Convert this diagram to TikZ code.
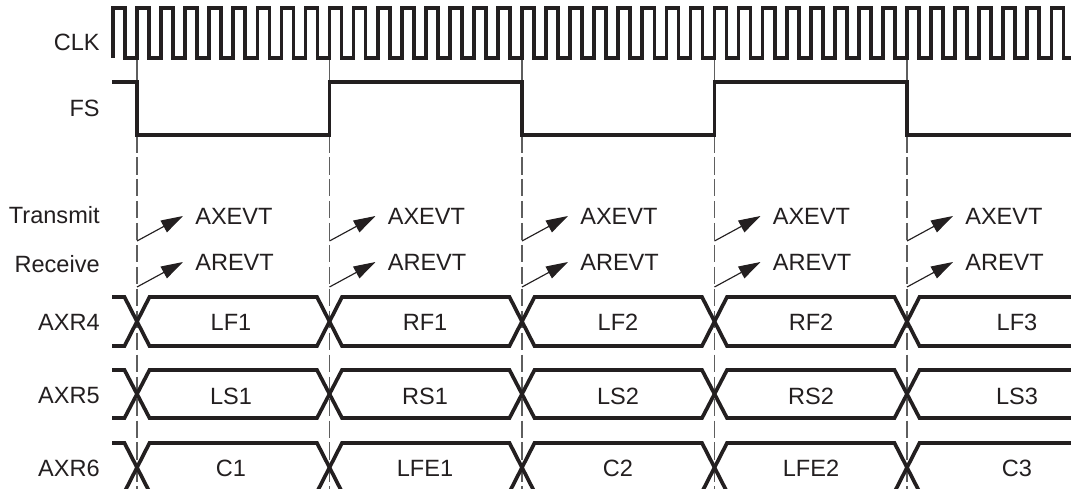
\documentclass[tikz,border=0pt]{standalone}
\usepackage{fontspec}
\setmainfont{Liberation Sans}
\usepackage{tikz}
\usepackage{xcolor}
\usetikzlibrary{arrows.meta,positioning,calc}
\definecolor{ink}{HTML}{231F20}
\definecolor{markgray}{HTML}{5E5E5E}
\tikzset{
  wave/.style={draw=ink,line width=2.1pt,line join=miter},
  markline/.style={draw=markgray,line width=0.65pt},
  markdash/.style={markline,dash pattern=on 10pt off 2.5pt},
  siglabel/.style={anchor=east,inner sep=0pt,text=ink,
                   font=\fontsize{13.4}{15}\selectfont},
  slotlabel/.style={inner sep=0pt,text=ink,
                    font=\fontsize{13.4}{15}\selectfont},
  evtlabel/.style={anchor=west,inner xsep=6.8pt,inner ysep=0pt,text=ink,
                   font=\fontsize{13.4}{15}\selectfont},
  evtarr/.style={-{Triangle[length=12.5pt,width=7.5pt]},line width=0.65pt,draw=ink}
}

\begin{document}
\begin{tikzpicture}[x=0.02cm,y=-0.02cm]
  \useasboundingbox[fill=white] (0,0) rectangle (1071,489);

  % Signal names
  \node[siglabel] (lclk) at (100,42) {CLK};
  \node[siglabel] (lfs) at (100,108) {FS};
  \node[siglabel] (ltx) at (100,215) {Transmit};
  \node[siglabel] (lrx) at (100,264) {Receive};
  \node[siglabel] (laxr4) at (100,322) {AXR4};
  \node[siglabel] (laxr5) at (100,396) {AXR5};
  \node[siglabel] (laxr6) at (100,468) {AXR6};

  % Frame boundary markers
  \foreach \b in {137,329.5,522,714.5,907} {
    \draw[markline] (\b,58) -- (\b,135);
    \draw[markdash] (\b,135) -- (\b,489);
  }

  % Bit clock
  \draw[wave] (113,58) \foreach \k in {1,...,39} {
      -- ++(0,-50) -- ++(12.03,0) -- ++(0,50) -- ++(12.03,0) }
    -- ++(0,-50) -- ++(12.03,0) -- ++(0,50) -- (1071,58);

  % Frame sync
  \draw[wave] (112,82) -- (137,82) -- (137,135) -- (329.5,135) -- (329.5,82)
    -- (522,82) -- (522,135) -- (714.5,135) -- (714.5,82) -- (907,82)
    -- (907,135) -- (1071,135);

  % DMA events at each frame start
  \foreach \b [count=\n] in {137,329.5,522,714.5,907} {
    \coordinate (xs\n) at (\b,241);
    \coordinate (rs\n) at (\b,287);
    \node[evtlabel] (ax\n) at (\b+46,216) {AXEVT};
    \node[evtlabel] (ar\n) at (\b+46,262) {AREVT};
    \draw[evtarr] (xs\n) -- (ax\n.west);
    \draw[evtarr] (rs\n) -- (ar\n.west);
  }

  % Serializer data buses
  \foreach \yt/\yb in {297/346,370/418,443/492} {
    \foreach \ya/\yc in {\yt/\yb,\yb/\yt} {
      \draw[wave] (112,\ya) \foreach \b [count=\n] in {137,329.5,522,714.5,907} {
          -- (\b-12.5,{isodd(\n)?\ya:\yc}) -- (\b+12.5,{isodd(\n)?\yc:\ya}) }
        -- (1071,\yc);
    }
  }

  % Slot contents
  \foreach \x/\ta/\tb/\tc [count=\n] in {231/LF1/LS1/C1,425/RF1/RS1/LFE1,
      618/LF2/LS2/C2,811/RF2/RS2/LFE2,1017/LF3/LS3/C3} {
    \node[slotlabel] (da\n) at (\x,322) {\ta};
    \node[slotlabel] (db\n) at (\x,396) {\tb};
    \node[slotlabel] (dc\n) at (\x,468) {\tc};
  }
\end{tikzpicture}
\end{document}
